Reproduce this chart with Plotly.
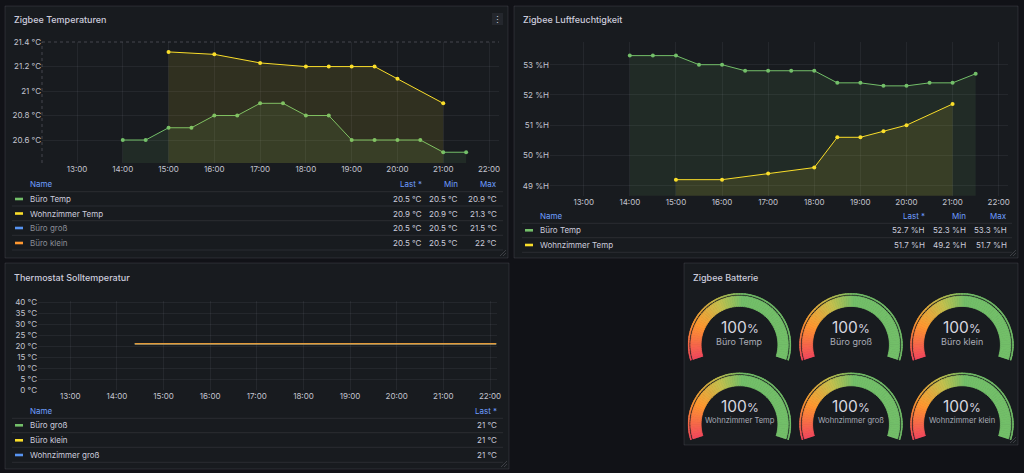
import plotly.graph_objects as go

W, H = 1024, 473
DAY = "2024-03-09"

# ---------------- data ----------------
hour_ticks = ["13:00", "14:00", "15:00", "16:00", "17:00", "18:00", "19:00", "20:00", "21:00", "22:00"]

# Zigbee Temperaturen
temp_buero_times = ["14:00", "14:30", "15:00", "15:30", "16:00", "16:30", "17:00", "17:30",
                    "18:00", "18:30", "19:00", "19:30", "20:00", "20:30", "21:00", "21:30"]
temp_buero = [20.6, 20.6, 20.7, 20.7, 20.8, 20.8, 20.9, 20.9, 20.8, 20.8, 20.6, 20.6, 20.6, 20.6, 20.5, 20.5]
temp_wohn_times = ["15:00", "16:00", "17:00", "18:00", "18:30", "19:00", "19:30", "20:00", "21:00"]
temp_wohn = [21.32, 21.3, 21.23, 21.2, 21.2, 21.2, 21.2, 21.1, 20.9]
temp_hidden_names = ["Büro groß", "Büro klein"]
temp_hidden_last = [20.5, 20.5]
temp_hidden_min = [20.5, 20.5]
temp_hidden_max = [21.5, 22]
temp_ticks = [20.6, 20.8, 21.0, 21.2, 21.4]
temp_ticklabels = ["20.6 °C", "20.8 °C", "21 °C", "21.2 °C", "21.4 °C"]

# Zigbee Luftfeuchtigkeit
hum_buero_times = ["14:00", "14:30", "15:00", "15:30", "16:00", "16:30", "17:00", "17:30",
                   "18:00", "18:30", "19:00", "19:30", "20:00", "20:30", "21:00", "21:30"]
hum_buero = [53.3, 53.3, 53.3, 53.0, 53.0, 52.8, 52.8, 52.8, 52.8, 52.4, 52.4, 52.3, 52.3, 52.4, 52.4, 52.7]
hum_wohn_times = ["15:00", "16:00", "17:00", "18:00", "18:30", "19:00", "19:30", "20:00", "21:00"]
hum_wohn = [49.2, 49.2, 49.4, 49.6, 50.6, 50.6, 50.8, 51.0, 51.7]
hum_ticks = [49, 50, 51, 52, 53]
hum_ticklabels = ["49 %H", "50 %H", "51 %H", "52 %H", "53 %H"]

# Thermostat Solltemperatur
soll_times = ["14:23", "22:08"]
soll_names = ["Büro groß", "Büro klein", "Wohnzimmer groß"]
soll_buero_gross = [21, 21]
soll_buero_klein = [21, 21]
soll_wohn_gross = [21, 21]
soll_ticks = [0, 5, 10, 15, 20, 25, 30, 35, 40]
soll_ticklabels = ["0 °C", "5 °C", "10 °C", "15 °C", "20 °C", "25 °C", "30 °C", "35 °C", "40 °C"]

# Zigbee Batterie
batt_names = ["Büro Temp", "Büro groß", "Büro klein", "Wohnzimmer Temp", "Wohnzimmer groß", "Wohnzimmer klein"]
batt_values = [100, 100, 100, 100, 100, 100]

# ---------------- style ----------------
FONT = "Inter, 'Open Sans', sans-serif"
PAGE_BG = "#111217"
PANEL_BG = "#181b1f"
PANEL_BORDER = "rgba(204,204,220,0.12)"
GRID = "rgba(204,204,220,0.07)"
TEXT = "#ccccdc"
TICK = "#c3c4cf"
HEAD = "#6e9fff"
DIM = "#8a8d96"
GREEN = "#73bf69"
YELLOW = "#fade2a"
BLUE = "#5794f2"
ORANGE = "#ff9830"
SOLL_LINE = "#e49a38"


def fx(x):
    return x / W


def fy(y):
    return 1 - y / H


def t(hm):
    return f"{DAY} {hm}"


def fmt(v):
    s = f"{v:.1f}"
    if s.endswith(".0"):
        s = s[:-2]
    return s


fig = go.Figure()
shapes = []
annotations = []


def text(x, y, s, size=8, color=TEXT, anchor="left", weight=None):
    f = dict(family=FONT, size=size, color=color)
    if weight:
        f["weight"] = weight
    annotations.append(dict(x=fx(x), y=fy(y), xref="paper", yref="paper", text=s, showarrow=False,
                            xanchor=anchor, yanchor="middle", font=f, borderpad=0))


# panels
panels = [(5, 6, 508, 258), (514, 6, 1018, 258), (5, 263, 509, 469), (684, 263, 1018, 445)]
for (x0, y0, x1, y1) in panels:
    shapes.append(dict(type="rect", xref="paper", yref="paper", x0=fx(x0), x1=fx(x1), y0=fy(y1), y1=fy(y0),
                       fillcolor=PANEL_BG, line=dict(color=PANEL_BORDER, width=1), layer="below"))
    # resize handle in the bottom-right corner
    for d in (3, 6):
        shapes.append(dict(type="line", xref="paper", yref="paper",
                           x0=fx(x1 - 2 - d), y0=fy(y1 - 2), x1=fx(x1 - 2), y1=fy(y1 - 2 - d),
                           line=dict(color="rgba(204,204,220,0.25)", width=0.8)))

text(13, 19, "Zigbee Temperaturen", size=9, weight=500)
text(522, 19, "Zigbee Luftfeuchtigkeit", size=9, weight=500)
text(13, 277, "Thermostat Solltemperatur", size=9, weight=500)
text(692, 277, "Zigbee Batterie", size=9, weight=500)

# menu button panel 1
shapes.append(dict(type="rect", xref="paper", yref="paper", x0=fx(492), x1=fx(503), y0=fy(25), y1=fy(13),
                   fillcolor="#24272d", line=dict(width=0), layer="below"))
text(497.5, 19, "⋮", size=9, anchor="center")


# ---------------- axes ----------------
def time_axis(x0, x1, r0, r1, anchor):
    return dict(domain=[fx(x0), fx(x1)], range=[t(r0), t(r1)], type="date",
                tickvals=[t(h) for h in hour_ticks], ticktext=hour_ticks, automargin=False,
                showgrid=True, gridcolor=GRID, gridwidth=1, zeroline=False, showline=False,
                ticks="", tickfont=dict(family=FONT, size=8, color=TICK), anchor=anchor, fixedrange=True)


def val_axis(y0, y1, rng, tv, tt, anchor):
    return dict(domain=[fy(y1), fy(y0)], range=rng, tickvals=tv, ticktext=tt, automargin=False,
                showgrid=True, gridcolor=GRID, gridwidth=1, zeroline=False, showline=False,
                ticks="", tickfont=dict(family=FONT, size=8, color=TICK), anchor=anchor, fixedrange=True)


layout_axes = dict(
    xaxis=time_axis(42, 499, "12:14:08", "22:13:06", "y"),
    yaxis=val_axis(42, 163, [20.412, 21.401], temp_ticks, temp_ticklabels, "x"),
    xaxis2=time_axis(550, 1008, "12:16:08", "22:12:06", "y2"),
    yaxis2=val_axis(42, 195.7, [48.67, 53.75], hum_ticks, hum_ticklabels, "x2"),
    xaxis3=time_axis(38, 497, "12:18:30", "22:09:00", "y3"),
    yaxis3=val_axis(301, 390, [0, 40.5], soll_ticks, soll_ticklabels, "x3"),
)

# dotted frame lines panel 1
shapes.append(dict(type="line", xref="x domain", yref="y domain", x0=0, x1=0, y0=0, y1=1,
                   line=dict(color="rgba(204,204,220,0.25)", width=1, dash="dot")))
shapes.append(dict(type="line", xref="x domain", yref="y domain", x0=0, x1=1, y0=1, y1=1,
                   line=dict(color="rgba(204,204,220,0.25)", width=1, dash="dot")))


def series(times, vals, color, fillcolor, xa, ya, markers=True, width=1):
    fig.add_trace(go.Scatter(
        x=[t(h) for h in times], y=vals, mode="lines+markers" if markers else "lines",
        line=dict(color=color, width=width), marker=dict(size=4, color=color),
        fill="tozeroy" if fillcolor else None, fillcolor=fillcolor,
        xaxis=xa, yaxis=ya, showlegend=False, hoverinfo="skip"))


series(temp_buero_times, temp_buero, GREEN, "rgba(115,191,105,0.10)", "x", "y")
series(temp_wohn_times, temp_wohn, YELLOW, "rgba(250,222,42,0.11)", "x", "y")
series(hum_buero_times, hum_buero, GREEN, "rgba(115,191,105,0.10)", "x2", "y2")
series(hum_wohn_times, hum_wohn, YELLOW, "rgba(250,222,42,0.11)", "x2", "y2")
series(soll_times, soll_buero_gross, GREEN, None, "x3", "y3", markers=False)
series(soll_times, soll_wohn_gross, BLUE, None, "x3", "y3", markers=False)
series(soll_times, soll_buero_klein, SOLL_LINE, None, "x3", "y3", markers=False, width=1.5)


# ---------------- legend tables ----------------
def sep(x0, x1, y):
    shapes.append(dict(type="line", xref="paper", yref="paper", x0=fx(x0), x1=fx(x1), y0=fy(y), y1=fy(y),
                       line=dict(color="rgba(204,204,220,0.10)", width=1)))


def swatch(x, y, color):
    shapes.append(dict(type="rect", xref="paper", yref="paper", x0=fx(x), x1=fx(x + 8), y0=fy(y + 1.3), y1=fy(y - 1.3),
                       fillcolor=color, line=dict(width=0)))


# panel 1 table
t1_rows = [
    ("Büro Temp", GREEN, TEXT, temp_buero[-1], min(temp_buero), max(temp_buero)),
    ("Wohnzimmer Temp", YELLOW, TEXT, temp_wohn[-1], min(temp_wohn), max(temp_wohn)),
    (temp_hidden_names[0], BLUE, DIM, temp_hidden_last[0], temp_hidden_min[0], temp_hidden_max[0]),
    (temp_hidden_names[1], ORANGE, DIM, temp_hidden_last[1], temp_hidden_min[1], temp_hidden_max[1]),
]
text(29, 184, "Name", color=HEAD)
text(423, 184, "Last *", color=HEAD, anchor="right")
text(459, 184, "Min", color=HEAD, anchor="right")
text(498, 184, "Max", color=HEAD, anchor="right")
row_y = [199, 213.5, 228, 243]
for yy in [191.7, 206, 220.7, 235.3, 250]:
    sep(12, 503, yy)
for (name, col, tcol, last, mn, mx), yy in zip(t1_rows, row_y):
    swatch(15, yy, col)
    text(29, yy, name, color=tcol)
    text(423, yy, fmt(last) + " °C", anchor="right")
    text(459, yy, fmt(mn) + " °C", anchor="right")
    text(498, yy, fmt(mx) + " °C", anchor="right")

# panel 2 table
t2_rows = [
    ("Büro Temp", GREEN, hum_buero[-1], min(hum_buero), max(hum_buero)),
    ("Wohnzimmer Temp", YELLOW, hum_wohn[-1], min(hum_wohn), max(hum_wohn)),
]
text(539, 216, "Name", color=HEAD)
text(926, 216, "Last *", color=HEAD, anchor="right")
text(967, 216, "Min", color=HEAD, anchor="right")
text(1008, 216, "Max", color=HEAD, anchor="right")
for yy in [223.3, 237.7, 252.3]:
    sep(522, 1012, yy)
for (name, col, last, mn, mx), yy in zip(t2_rows, [230.3, 245]):
    swatch(525, yy, col)
    text(539, yy, name)
    text(926, yy, fmt(last) + " %H", anchor="right")
    text(967, yy, fmt(mn) + " %H", anchor="right")
    text(1008, yy, fmt(mx) + " %H", anchor="right")

# panel 3 table
t3_rows = [
    (soll_names[0], GREEN, soll_buero_gross[-1]),
    (soll_names[1], YELLOW, soll_buero_klein[-1]),
    (soll_names[2], BLUE, soll_wohn_gross[-1]),
]
text(29, 411, "Name", color=HEAD)
text(498, 411, "Last *", color=HEAD, anchor="right")
for yy in [418.3, 432.7, 447.3, 462.3]:
    sep(12, 503, yy)
for (name, col, last), yy in zip(t3_rows, [425.3, 440.3, 455]):
    swatch(15, yy, col)
    text(29, yy, name)
    text(498, yy, fmt(last) + " °C", anchor="right")

# ---------------- gauges ----------------
START, END = 198.0, -18.0
SWEEP = START - END
STOPS = [(0.0, (242, 73, 92)), (0.2, (255, 152, 48)), (0.38, (196, 192, 78)),
         (0.52, (115, 191, 105)), (1.0, (115, 191, 105))]


def grad(u):
    for (a, ca), (b, cb) in zip(STOPS[:-1], STOPS[1:]):
        if a <= u <= b:
            k = (u - a) / (b - a) if b > a else 0
            c = [round(ca[i] + (cb[i] - ca[i]) * k) for i in range(3)]
            return f"rgb({c[0]},{c[1]},{c[2]})"
    return "rgb(115,191,105)"


gauge_cx = [739.5, 851, 962]
gauge_cy = [344.8, 424.2]
RMAX = 52
N_SEG = 72
step = SWEEP / N_SEG
bottom_frac = 0.309
polars = {}
for i, (name, val) in enumerate(zip(batt_names, batt_values)):
    cx = gauge_cx[i % 3]
    cy = gauge_cy[i // 3]
    pid = "polar" if i == 0 else f"polar{i + 1}"
    polars[pid] = dict(
        domain=dict(x=[fx(cx - RMAX), fx(cx + RMAX)], y=[fy(cy + RMAX * bottom_frac), fy(cy - RMAX)]),
        sector=[END, START], bgcolor="rgba(0,0,0,0)", hole=0, barmode="overlay",
        radialaxis=dict(visible=False, range=[0, RMAX]),
        angularaxis=dict(visible=False, rotation=0, direction="counterclockwise"),
    )
    all_theta = [START - (k + 0.5) * step for k in range(N_SEG)]
    all_col = [grad(k / (N_SEG - 1)) for k in range(N_SEG)]
    n_fill = round(N_SEG * val / 100)
    fig.add_trace(go.Barpolar(theta=all_theta, r=[1.3] * N_SEG, base=[50.3] * N_SEG, width=[step] * N_SEG,
                              marker=dict(color=all_col, line=dict(width=0.6, color=all_col)), subplot=pid,
                              showlegend=False, hoverinfo="skip"))
    fig.add_trace(go.Barpolar(theta=all_theta[:n_fill], r=[10.4] * n_fill, base=[38.4] * n_fill,
                              width=[step] * n_fill,
                              marker=dict(color=all_col[:n_fill], line=dict(width=0.8, color=all_col[:n_fill])),
                              subplot=pid, showlegend=False, hoverinfo="skip"))
    label_size = 9 if len(name) <= 10 else 7.6
    text(cx, cy - 17.5, f"{val}<span style='font-size:12px'>%</span>", size=15.5, color="#d8d9e0", anchor="center")
    text(cx, cy - 3.8, name, size=label_size, color="#a9abb6", anchor="center")

fig.update_layout(
    width=W, height=H, autosize=False,
    margin=dict(l=0, r=0, t=0, b=0, pad=0, autoexpand=False),
    paper_bgcolor=PAGE_BG, plot_bgcolor="rgba(0,0,0,0)",
    font=dict(family=FONT, color=TEXT),
    showlegend=False, shapes=shapes, annotations=annotations,
    **layout_axes, **polars,
)

fig.write_html("out.html", config={"displayModeBar": False},
               post_script="document.body.style.margin='0';document.body.style.overflow='hidden';")
